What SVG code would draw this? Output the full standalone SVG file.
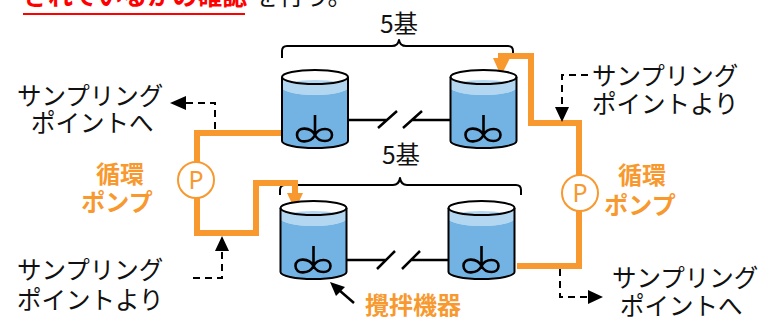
<svg xmlns="http://www.w3.org/2000/svg" xmlns:xlink="http://www.w3.org/1999/xlink" width="763" height="320" viewBox="0 0 763 320">
  <style>
    .jp { font-family: "Noto Sans CJK JP", "Noto Sans", sans-serif; }
    .label { font-size: 24.5px; fill: #111; }
    .orange-label { font-size: 24px; font-weight: bold; fill: #F7992F; }
    .pump-letter { font-family: "Noto Sans", "Liberation Sans", sans-serif; font-size: 25px; fill: #F7992F; }
    .pipe { fill: none; stroke: #F7992F; stroke-width: 6; stroke-linejoin: miter; stroke-linecap: butt; }
    .pipe-head { fill: #F7992F; }
    .pump { fill: #fff; stroke: #F7992F; stroke-width: 2; }
    .link { fill: none; stroke: #000; stroke-width: 2.5; }
    .dash { fill: none; stroke: #000; stroke-width: 2; stroke-dasharray: 7 5; }
    .head { fill: #000; }
    .brace { fill: none; stroke: #000; stroke-width: 2; stroke-linejoin: round; }
    .water-light { fill: #B3D7F1; }
    .water { fill: #72B3E3; }
    .outline { fill: none; stroke: #000; stroke-width: 2; }
    .blade { fill: none; stroke: #000; stroke-width: 2.6; stroke-linejoin: round; }
  </style>
  <defs>
    <!-- open-top tank with water and an agitator; origin at the centre of the rim -->
    <g id="tank">
      <path class="water-light" d="M-33,0 V64 A33,7 0 0 0 33,64 V0 Z"/>
      <path class="water" d="M-33,10.5 A33,7.5 0 0 0 33,10.5 V64 A33,7 0 0 1 -33,64 Z"/>
      <ellipse cx="0" cy="0" rx="33" ry="7" fill="#fff"/>
      <ellipse class="water-light" cx="0" cy="10.5" rx="33" ry="7.5"/>
      <path class="outline" d="M-33,0 V64 A33,7 0 0 0 33,64 V0"/>
      <ellipse class="outline" cx="0" cy="0" rx="33" ry="7"/>
      <path class="blade" d="M0,38 V58 C-4,50 -18,49 -18,58 C-18,67 -4,66 0,58 C4,50 17,50 17,58 C17,66 4,66 0,58"/>
    </g>
  </defs>

  <!-- heading line, clipped by the top edge -->
  <g id="heading">
    <text class="jp" x="23" y="5" font-size="25" font-weight="bold" fill="#FF0000">されているかの確認</text>
    <line x1="23" y1="14" x2="245" y2="14" stroke="#FF0000" stroke-width="2"/>
    <text class="jp" x="254" y="5" font-size="25" fill="#111">を行う。</text>
  </g>

  <!-- connectors -->
  <g id="connectors">
    <!-- tank-to-tank links with break marks -->
    <path class="link" d="M348,120 H387 M378,128 L397,111 M403,128 L422,111 M412,120 H450"/>
    <path class="link" d="M347,260 H386 M377,269 L395,251 M402,269 L420,251 M411,260 H448"/>

    <!-- upper/lower braces -->
    <path class="brace" d="M282,58 V51 Q282,46 287,46 H392 Q398,46 399,40 Q400,46 406,46 H508 Q513,46 513,51 V58"/>
    <path class="brace" d="M280,195 V190 Q280,185 285,185 H393 Q399,185 400,178 Q401,185 407,185 H516 Q521,185 521,190 V195"/>

    <!-- left circulation loop -->
    <path class="pipe" d="M282,133 H197 V162"/>
    <path class="pipe" d="M197,198 V233 H256 V183 H295 V195"/>
    <polygon class="pipe-head" points="287,193 303,193 295,210"/>

    <!-- right circulation loop -->
    <path class="pipe" d="M517,266 H579 V211"/>
    <path class="pipe" d="M579,175 V123 H531 V56 H501 V60"/>
    <polygon class="pipe-head" points="493,58 510,58 501,76"/>

    <!-- sampling lines -->
    <path class="dash" d="M215,129 V103 H186"/>
    <polygon class="head" points="170,103 186,96 186,110"/>

    <path class="dash" d="M588,75 H562 V107"/>
    <polygon class="head" points="562,122 555,107 569,107"/>

    <path class="dash" d="M193,278 H222 V251"/>
    <polygon class="head" points="222,236 215,251 229,251"/>

    <path class="dash" d="M560,269 V297 H588"/>
    <polygon class="head" points="603,297 588,290 588,304"/>

    <!-- agitator pointer -->
    <line x1="354" y1="303" x2="339" y2="290" stroke="#000" stroke-width="2.5"/>
    <polygon class="head" points="330,282 345,287 336,296"/>
  </g>

  <!-- tanks -->
  <g id="tank-upper-first"><use xlink:href="#tank" href="#tank" transform="translate(315,77)"/></g>
  <g id="tank-upper-last"><use xlink:href="#tank" href="#tank" transform="translate(483.5,77)"/></g>
  <g id="tank-lower-first"><use xlink:href="#tank" href="#tank" transform="translate(313.5,208)"/></g>
  <g id="tank-lower-last"><use xlink:href="#tank" href="#tank" transform="translate(481.5,208)"/></g>

  <!-- pumps -->
  <g id="pump-left">
    <circle class="pump" cx="196" cy="180" r="18"/>
    <text class="pump-letter" x="196" y="189" text-anchor="middle">P</text>
  </g>
  <g id="pump-right">
    <circle class="pump" cx="580" cy="193" r="18"/>
    <text class="pump-letter" x="580" y="202" text-anchor="middle">P</text>
  </g>

  <!-- labels -->
  <g id="count-upper"><text class="jp label" x="399" y="33" text-anchor="middle">5基</text></g>
  <g id="count-lower"><text class="jp label" x="401" y="164" text-anchor="middle">5基</text></g>

  <g id="pump-label-left">
    <text class="jp orange-label" x="120" y="183" text-anchor="middle">循環</text>
    <text class="jp orange-label" x="117" y="211" text-anchor="middle">ポンプ</text>
  </g>
  <g id="pump-label-right">
    <text class="jp orange-label" x="642" y="184" text-anchor="middle">循環</text>
    <text class="jp orange-label" x="640" y="214" text-anchor="middle">ポンプ</text>
  </g>

  <g id="agitator-label"><text class="jp orange-label" x="365" y="314" font-size="25">攪拌機器</text></g>

  <g id="sampling-out-upper">
    <text class="jp label" x="17" y="105">サンプリング</text>
    <text class="jp label" x="31" y="132">ポイントへ</text>
  </g>
  <g id="sampling-in-upper">
    <text class="jp label" x="592" y="85">サンプリング</text>
    <text class="jp label" x="592" y="113">ポイントより</text>
  </g>
  <g id="sampling-in-lower">
    <text class="jp label" x="17" y="279">サンプリング</text>
    <text class="jp label" x="17" y="309">ポイントより</text>
  </g>
  <g id="sampling-out-lower">
    <text class="jp label" x="612" y="287">サンプリング</text>
    <text class="jp label" x="620" y="315">ポイントへ</text>
  </g>
</svg>
